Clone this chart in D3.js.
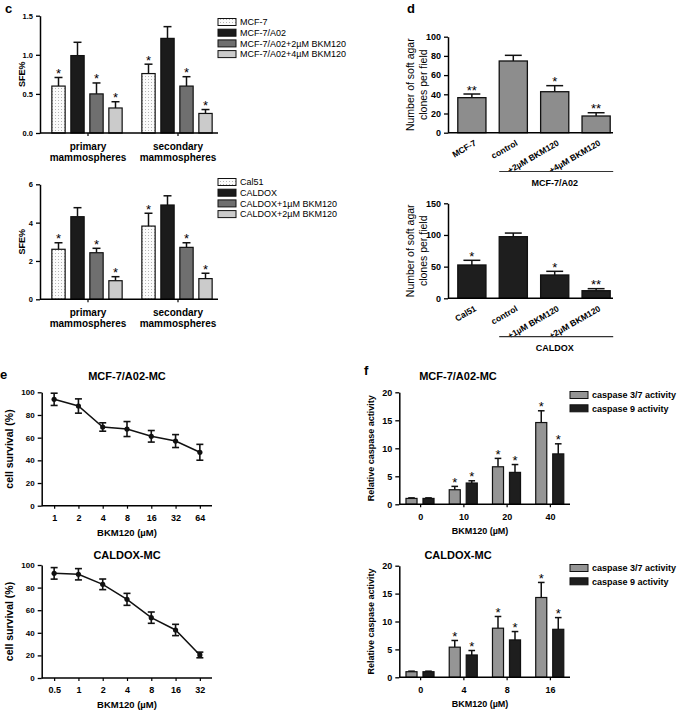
<!DOCTYPE html>
<html>
<head>
<meta charset="utf-8">
<script src="https://cdn.jsdelivr.net/npm/d3@7"></script>
<style>
  body { margin: 0; background: #fff; }
</style>
</head>
<body>
<script>
const FONT = "'Liberation Sans', Arial, Helvetica, sans-serif";

// ---- panel c (mammosphere formation) ----
const cGroups = ["primary mammospheres", "secondary mammospheres"];
const cTopSeries = ["MCF-7", "MCF-7/A02", "MCF-7/A02+2µM BKM120", "MCF-7/A02+4µM BKM120"];
const cTopMeans = [[0.60, 0.99, 0.50, 0.32], [0.76, 1.21, 0.60, 0.25]];
const cTopErr = [[0.11, 0.17, 0.14, 0.08], [0.12, 0.15, 0.12, 0.05]];
const cTopSig = [["*", "", "*", "*"], ["*", "", "*", "*"]];
const cTopTicks = [0, 0.5, 1.0, 1.5];

const cBotSeries = ["Cal51", "CALDOX", "CALDOX+1µM BKM120", "CALDOX+2µM BKM120"];
const cBotMeans = [[2.61, 4.31, 2.43, 0.97], [3.82, 4.92, 2.71, 1.08]];
const cBotErr = [[0.34, 0.47, 0.23, 0.21], [0.67, 0.48, 0.24, 0.28]];
const cBotSig = [["*", "", "*", "*"], ["*", "", "*", "*"]];
const cBotTicks = [0, 2, 4, 6];

// ---- panel d (soft agar clones) ----
const dTopCats = ["MCF-7", "control", "+2µM BKM120", "+4µM BKM120"];
const dTopMeans = [36.5, 74.7, 42.7, 17.4];
const dTopErr = [3.8, 5.9, 6.3, 3.4];
const dTopSig = ["**", "", "*", "**"];
const dTopTicks = [0, 20, 40, 60, 80, 100];
const dTopGroup = "MCF-7/A02";

const dBotCats = ["Cal51", "control", "+1µM BKM120", "+2µM BKM120"];
const dBotMeans = [52.6, 97.3, 36.8, 12.0];
const dBotErr = [7.4, 5.7, 5.8, 3.2];
const dBotSig = ["*", "", "*", "**"];
const dBotTicks = [0, 50, 100, 150];
const dBotGroup = "CALDOX";

// ---- panel e (cell survival) ----
const eTopDoses = ["1", "2", "4", "8", "16", "32", "64"];
const eTopMeans = [93.8, 87.9, 69.4, 67.6, 61.2, 57.0, 47.1];
const eTopErr = [5.4, 6.3, 3.7, 6.6, 5.1, 5.7, 7.0];
const eBotDoses = ["0.5", "1", "2", "4", "8", "16", "32"];
const eBotMeans = [92.6, 91.8, 82.9, 69.6, 53.4, 42.5, 20.4];
const eBotErr = [5.1, 5.0, 4.7, 5.3, 5.0, 5.0, 2.5];
const eTicks = [0, 20, 40, 60, 80, 100];

// ---- panel f (caspase activity) ----
const fSeries = ["caspase 3/7 activity", "caspase 9 activity"];
const fTopDoses = ["0", "10", "20", "40"];
const fTopMeans = [[1.05, 1.05], [2.6, 3.8], [6.7, 5.7], [14.6, 9.0]];
const fTopErr = [[0.1, 0.1], [0.6, 0.4], [1.5, 1.4], [2.1, 1.8]];
const fBotDoses = ["0", "4", "8", "16"];
const fBotMeans = [[1.0, 1.0], [5.4, 4.0], [8.8, 6.7], [14.3, 8.6]];
const fBotErr = [[0.1, 0.1], [1.2, 0.8], [2.1, 1.5], [2.7, 2.1]];
const fTicks = [0, 5, 10, 15, 20];

const svg = d3.select("body").append("svg")
    .attr("width", 685)
    .attr("height", 711)
    .style("font-family", FONT);

// dotted fill used for the parental lines
const pat = svg.append("defs").append("pattern")
    .attr("id", "dots")
    .attr("width", 3)
    .attr("height", 3)
    .attr("patternUnits", "userSpaceOnUse");
pat.append("rect").attr("width", 3).attr("height", 3).attr("fill", "#fbfbfb");
pat.append("rect").attr("x", 1).attr("y", 1).attr("width", 1).attr("height", 1).attr("fill", "#b5b5b5");

function txt(x, y, s, size, weight, anchor) {
    return svg.append("text")
        .attr("x", x).attr("y", y)
        .attr("font-size", size)
        .attr("font-weight", weight || "normal")
        .attr("text-anchor", anchor || "start")
        .text(s);
}

function leftAxis(y, x0, ticks, fmt, fs) {
    const a = svg.append("g")
        .attr("transform", "translate(" + x0 + ",0)")
        .call(d3.axisLeft(y).tickValues(ticks).tickFormat(fmt).tickSize(4).tickSizeOuter(0).tickPadding(3));
    a.attr("font-family", FONT);
    a.select(".domain").attr("stroke-width", 1.5);
    a.selectAll(".tick line").attr("stroke-width", 1.3);
    a.selectAll(".tick text").attr("font-size", fs).attr("font-weight", "bold");
    return a;
}

function bottomAxis(x, y0, xStart, xEnd, showTicks, fs) {
    const a = svg.append("g")
        .attr("transform", "translate(0," + y0 + ")")
        .call(d3.axisBottom(x).tickSize(showTicks ? 3 : 0).tickSizeOuter(0).tickPadding(6));
    a.attr("font-family", FONT);
    a.select(".domain").attr("d", "M" + xStart + ",0H" + xEnd).attr("stroke-width", 1.5);
    a.selectAll(".tick line").attr("stroke-width", 1.2);
    a.selectAll(".tick text").attr("font-size", fs).attr("font-weight", "bold");
    return a;
}

function errCap(cx, yv, yTop, half) {
    svg.append("line").attr("x1", cx).attr("x2", cx).attr("y1", yv).attr("y2", yTop)
        .attr("stroke", "#111").attr("stroke-width", 1.5);
    svg.append("line").attr("x1", cx - half).attr("x2", cx + half).attr("y1", yTop).attr("y2", yTop)
        .attr("stroke", "#111").attr("stroke-width", 1.5);
}

// grouped bars with upper error bars and stars
function groupedBars(o) {
    const y = d3.scaleLinear().domain([0, d3.max(o.ticks)]).range([o.y0, o.yTop]);
    const gx = d3.scaleBand().domain(o.groups).range(o.groupRange);
    const ix = d3.scaleBand().domain(o.series).range(o.innerRange)
        .paddingInner(o.padIn).paddingOuter(o.padOut);

    const rows = [];
    o.groups.forEach(function (g, gi) {
        o.series.forEach(function (s, si) {
            rows.push({g: g, s: s, si: si, m: o.means[gi][si], e: o.errs[gi][si], sig: o.sig[gi][si]});
        });
    });

    rows.forEach(function (d) {
        const bx = gx(d.g) + ix(d.s);
        const cx = bx + ix.bandwidth() / 2;
        errCap(cx, y(d.m), y(d.m + d.e), ix.bandwidth() * o.capFrac);
        svg.append("rect")
            .attr("x", bx).attr("y", y(d.m))
            .attr("width", ix.bandwidth()).attr("height", o.y0 - y(d.m))
            .attr("fill", o.fills[d.si])
            .attr("stroke", "#111").attr("stroke-width", 1.2);
        if (d.sig) {
            txt(cx, y(d.m + d.e) + 0.5, d.sig, o.starSize, "normal", "middle");
        }
    });

    leftAxis(y, o.axisX, o.ticks, o.fmt, o.tickFs);
    const xa = bottomAxis(gx, o.y0, o.axisX, o.axisEnd, true, o.labelFs);
    return {y: y, gx: gx, ix: ix, xa: xa};
}

function legend(x, yFirst, dy, labels, fills, fs, weight) {
    labels.forEach(function (l, i) {
        svg.append("rect")
            .attr("x", x).attr("y", yFirst + i * dy - 3.5)
            .attr("width", 18).attr("height", 7)
            .attr("fill", fills[i]).attr("stroke", "#111").attr("stroke-width", 1);
        txt(x + 22, yFirst + i * dy + 3.3, l, fs, weight);
    });
}

// ================= panel c =================
txt(5, 13, "c", 13, "bold");
const cFills = ["url(#dots)", "#1b1b1b", "#6f6f6f", "#cbcbcb"];
[
    {series: cTopSeries, means: cTopMeans, errs: cTopErr, sig: cTopSig, ticks: cTopTicks,
        fmt: d3.format(".1f"), y0: 133, yTop: 15.7, legY: 22},
    {series: cBotSeries, means: cBotMeans, errs: cBotErr, sig: cBotSig, ticks: cBotTicks,
        fmt: d3.format("d"), y0: 299.3, yTop: 184.3, legY: 182}
].forEach(function (p) {
    const r = groupedBars({
        groups: cGroups, series: p.series, means: p.means, errs: p.errs, sig: p.sig,
        ticks: p.ticks, fmt: p.fmt, y0: p.y0, yTop: p.yTop,
        groupRange: [43, 223], innerRange: [6, 82], padIn: 0.3, padOut: 0.15,
        fills: cFills, capFrac: 0.3, starSize: 13, axisX: 40, axisEnd: 218,
        tickFs: 7.5, labelFs: 10
    });
    // two-line group labels
    r.xa.selectAll(".tick text").each(function (d) {
        const t = d3.select(this).text(null);
        d.split(" ").forEach(function (w, i) {
            t.append("tspan").attr("x", 0).attr("dy", i === 0 ? "0.71em" : "1.1em").text(w);
        });
    });
    r.xa.selectAll(".tick text").attr("y", 9.5);
    svg.append("text")
        .attr("transform", "translate(25," + ((p.y0 + p.yTop) / 2) + ") rotate(-90)")
        .attr("text-anchor", "middle")
        .attr("font-size", 9).attr("font-weight", "bold")
        .text("SFE%");
    legend(218, p.legY, 10.7, p.series, cFills, 9, "normal");
});

// ================= panel d =================
txt(407, 13, "d", 13, "bold");
[
    {cats: dTopCats, means: dTopMeans, errs: dTopErr, sig: dTopSig, ticks: dTopTicks,
        y0: 132.7, yTop: 36.7, fill: "#8d8d8d", group: dTopGroup, lineY: 171.5},
    {cats: dBotCats, means: dBotMeans, errs: dBotErr, sig: dBotSig, ticks: dBotTicks,
        y0: 298.3, yTop: 203.3, fill: "#1e1e1e", group: dBotGroup, lineY: 336.7}
].forEach(function (p) {
    const y = d3.scaleLinear().domain([0, d3.max(p.ticks)]).range([p.y0, p.yTop]);
    const x = d3.scaleBand().domain(p.cats).range([452, 616]).paddingInner(0.32).paddingOuter(0.14);
    p.cats.forEach(function (c, i) {
        const cx = x(c) + x.bandwidth() / 2;
        errCap(cx, y(p.means[i]), y(p.means[i] + p.errs[i]), x.bandwidth() * 0.3);
        svg.append("rect")
            .attr("x", x(c)).attr("y", y(p.means[i]))
            .attr("width", x.bandwidth()).attr("height", p.y0 - y(p.means[i]))
            .attr("fill", p.fill).attr("stroke", "#111").attr("stroke-width", 1.3);
        if (p.sig[i]) txt(cx, y(p.means[i] + p.errs[i]) + 0.5, p.sig[i], 13, "normal", "middle");
    });
    leftAxis(y, 448, p.ticks, d3.format("d"), 9);
    const xa = bottomAxis(x, p.y0, 448, 613, false, 8.5);
    xa.selectAll(".tick text")
        .attr("text-anchor", "end")
        .attr("y", 0).attr("dy", 0)
        .attr("transform", "translate(5,12) rotate(-30)");
    // bracket under the resistant line
    const c1 = p.cats[1], c3 = p.cats[p.cats.length - 1];
    svg.append("line")
        .attr("x1", x(c1)).attr("x2", x(c3) + x.bandwidth() + 3)
        .attr("y1", p.lineY).attr("y2", p.lineY)
        .attr("stroke", "#333").attr("stroke-width", 1.2);
    txt((x(c1) + x(c3) + x.bandwidth()) / 2, p.lineY + 14, p.group, 9, "bold", "middle");
    const ly = svg.append("text")
        .attr("transform", "translate(416," + ((p.y0 + p.yTop) / 2) + ") rotate(-90)")
        .attr("text-anchor", "middle")
        .attr("font-size", 10.5);
    ly.append("tspan").attr("x", 0).attr("dy", "-0.15em").text("Number of soft agar");
    ly.append("tspan").attr("x", 0).attr("dy", "1.15em").text("clones per field");
});

// ================= panel e =================
txt(0, 379, "e", 13, "bold");
[
    {doses: eTopDoses, means: eTopMeans, errs: eTopErr, y0: 505.7, yTop: 392.3, title: "MCF-7/A02-MC", titleY: 380},
    {doses: eBotDoses, means: eBotMeans, errs: eBotErr, y0: 678, yTop: 565, title: "CALDOX-MC", titleY: 559}
].forEach(function (p) {
    const y = d3.scaleLinear().domain([0, 100]).range([p.y0, p.yTop]);
    const x = d3.scalePoint().domain(p.doses).range([42, 212]).padding(0.5);
    const pts = p.doses.map(function (d, i) { return {d: d, m: p.means[i], e: p.errs[i]}; });

    svg.append("path")
        .datum(pts)
        .attr("fill", "none").attr("stroke", "#111").attr("stroke-width", 1.5)
        .attr("d", d3.line().x(function (d) { return x(d.d); }).y(function (d) { return y(d.m); }));

    pts.forEach(function (d) {
        const cx = x(d.d);
        svg.append("line").attr("x1", cx).attr("x2", cx).attr("y1", y(d.m - d.e)).attr("y2", y(d.m + d.e))
            .attr("stroke", "#111").attr("stroke-width", 1.6);
        [d.m - d.e, d.m + d.e].forEach(function (v) {
            svg.append("line").attr("x1", cx - 3.5).attr("x2", cx + 3.5).attr("y1", y(v)).attr("y2", y(v))
                .attr("stroke", "#111").attr("stroke-width", 1.6);
        });
        svg.append("circle").attr("cx", cx).attr("cy", y(d.m)).attr("r", 2.6).attr("fill", "#111");
    });

    leftAxis(y, 41.7, eTicks, d3.format("d"), 8);
    bottomAxis(x, p.y0, 41.7, 212, true, 9);
    txt(127, p.titleY, p.title, 11, "bold", "middle");
    txt(127, p.y0 + 30, "BKM120 (µM)", 9.5, "bold", "middle");
    svg.append("text")
        .attr("transform", "translate(13," + ((p.y0 + p.yTop) / 2) + ") rotate(-90)")
        .attr("text-anchor", "middle")
        .attr("font-size", 10.5).attr("font-weight", "bold")
        .text("cell survival (%)");
});

// ================= panel f =================
txt(364, 375, "f", 13, "bold");
const fFills = ["#959595", "#1e1e1e"];
[
    {doses: fTopDoses, means: fTopMeans, errs: fTopErr, y0: 504.3, yTop: 392.3, title: "MCF-7/A02-MC", titleY: 380, legY: 395},
    {doses: fBotDoses, means: fBotMeans, errs: fBotErr, y0: 677.3, yTop: 565.7, title: "CALDOX-MC", titleY: 559, legY: 568}
].forEach(function (p) {
    const sig = p.doses.map(function (d) { return d === "0" ? ["", ""] : ["*", "*"]; });
    groupedBars({
        groups: p.doses, series: fSeries, means: p.means, errs: p.errs, sig: sig,
        ticks: fTicks, fmt: d3.format("d"), y0: p.y0, yTop: p.yTop,
        groupRange: [399, 572], innerRange: [4, 38], padIn: 0.35, padOut: 0.175,
        fills: fFills, capFrac: 0.3, starSize: 13, axisX: 399.3, axisEnd: 570,
        tickFs: 9, labelFs: 9
    });
    txt(458, p.titleY, p.title, 11, "bold", "middle");
    txt(480, p.y0 + 30, "BKM120 (µM)", 9, "bold", "middle");
    svg.append("text")
        .attr("transform", "translate(374," + ((p.y0 + p.yTop) / 2) + ") rotate(-90)")
        .attr("text-anchor", "middle")
        .attr("font-size", 9).attr("font-weight", "bold")
        .text("Relative caspase activity");
    legend(570, p.legY, 13.3, fSeries, fFills, 9, "bold");
});
</script>
</body>
</html>
